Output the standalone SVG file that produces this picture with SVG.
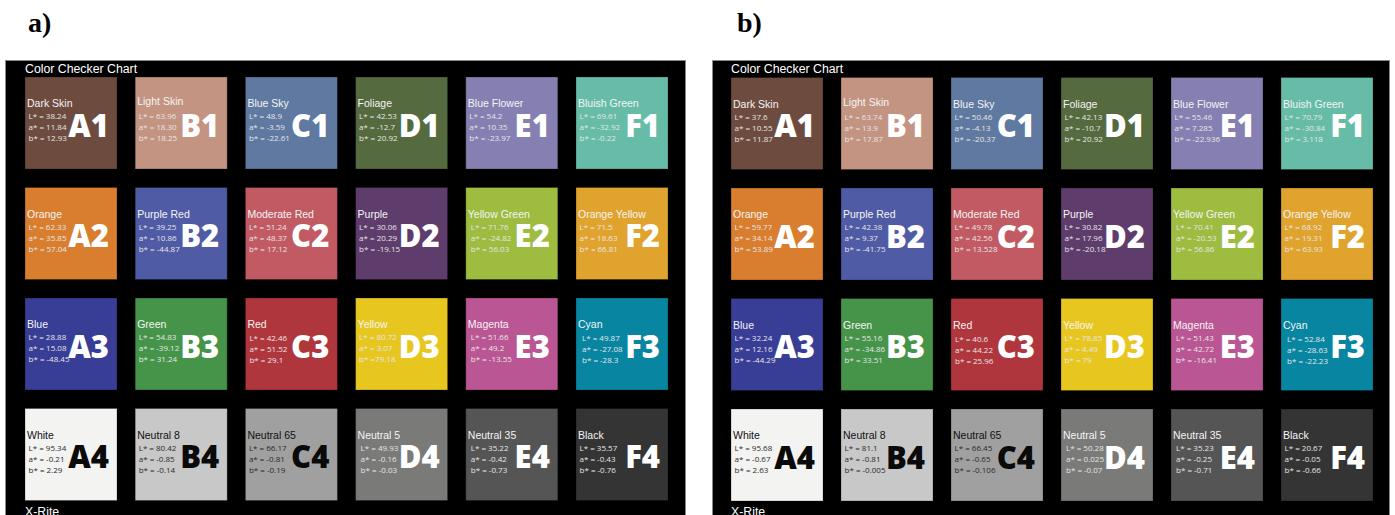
<svg xmlns="http://www.w3.org/2000/svg" width="1395" height="515" viewBox="0 0 1395 515">
<style>
.bg{fill:#fff}
.panel{fill:#000;stroke:#8a8a8a;stroke-width:1}
.sw{stroke:rgba(0,0,0,0.25);stroke-width:1}
.ttl{font-family:"Liberation Sans",Arial,sans-serif;font-size:12.3px;fill:#fff}
.pl{font-family:"Liberation Serif","Times New Roman",serif;font-size:28px;font-weight:bold;fill:#000}
.nm{font-family:"Liberation Sans",Arial,sans-serif;font-size:10.5px;fill:#f4f4f4}
.v{font-family:"Open Sans","Noto Sans",sans-serif;font-size:8px;fill:#e6e6e6}
.lb{font-family:"Open Sans","Noto Sans",sans-serif;font-size:31px;font-weight:800;fill:#fff;text-anchor:end}
.dk .nm{fill:#111}
.dk .v{fill:#2a2a2a}
.dk .lb{fill:#0a0a0a}
</style>
<rect class="bg" x="0" y="0" width="1395" height="515"/>
<text class="pl" x="28" y="32">a)</text>
<text class="pl" x="737" y="32">b)</text>

<g id="panel-a">
<rect class="panel" x="5.5" y="60.5" width="680" height="460"/>
<text class="ttl" x="25" y="73">Color Checker Chart</text>
<text class="ttl" x="25" y="516">X-Rite</text>

<g id="a-A1" transform="translate(25,77)"><rect class="sw" width="92" height="92" fill="#6d4c3f"/><text class="nm" x="2" y="30">Dark Skin</text><text class="v" x="3.5" y="42">L* = 38.24</text><text class="v" x="3.5" y="53">a* = 11.84</text><text class="v" x="3.5" y="64">b* = 12.93</text><text class="lb" x="84" y="59.5">A1</text></g>
<g id="a-B1" transform="translate(135.2,77)"><rect class="sw" width="92" height="92" fill="#c39482"/><text class="nm" x="2" y="28">Light Skin</text><text class="v" x="3.5" y="42">L* = 63.96</text><text class="v" x="3.5" y="53">a* = 18.30</text><text class="v" x="3.5" y="64">b* = 18.25</text><text class="lb" x="84" y="59.5">B1</text></g>
<g id="a-C1" transform="translate(245.4,77)"><rect class="sw" width="92" height="92" fill="#5f79a0"/><text class="nm" x="2" y="30">Blue Sky</text><text class="v" x="3.5" y="42">L* = 48.9</text><text class="v" x="3.5" y="53">a* = -3.59</text><text class="v" x="3.5" y="64">b* = -22.61</text><text class="lb" x="84" y="59.5">C1</text></g>
<g id="a-D1" transform="translate(355.6,77)"><rect class="sw" width="92" height="92" fill="#566a3f"/><text class="nm" x="2" y="30">Foliage</text><text class="v" x="3.5" y="42">L* = 42.53</text><text class="v" x="3.5" y="53">a* = -12.7</text><text class="v" x="3.5" y="64">b* = 20.92</text><text class="lb" x="84" y="59.5">D1</text></g>
<g id="a-E1" transform="translate(465.8,77)"><rect class="sw" width="92" height="92" fill="#8580b1"/><text class="nm" x="2" y="30">Blue Flower</text><text class="v" x="3.5" y="42">L* = 54.2</text><text class="v" x="3.5" y="53">a* = 10.35</text><text class="v" x="3.5" y="64">b* = -23.97</text><text class="lb" x="84" y="59.5">E1</text></g>
<g id="a-F1" transform="translate(576,77)"><rect class="sw" width="92" height="92" fill="#67bca8"/><text class="nm" x="2" y="30">Bluish Green</text><text class="v" x="3.5" y="42">L* = 69.61</text><text class="v" x="3.5" y="53">a* = -32.92</text><text class="v" x="3.5" y="64">b* = -0.22</text><text class="lb" x="84" y="59.5">F1</text></g>

<g id="a-A2" transform="translate(25,187.5)"><rect class="sw" width="92" height="92" fill="#d87e2e"/><text class="nm" x="2" y="30">Orange</text><text class="v" x="3.5" y="42">L* = 62.33</text><text class="v" x="3.5" y="53">a* = 35.85</text><text class="v" x="3.5" y="64">b* = 57.04</text><text class="lb" x="84" y="59.5">A2</text></g>
<g id="a-B2" transform="translate(135.2,187.5)"><rect class="sw" width="92" height="92" fill="#505ba6"/><text class="nm" x="2" y="30">Purple Red</text><text class="v" x="3.5" y="42">L* = 39.25</text><text class="v" x="3.5" y="53">a* = 10.86</text><text class="v" x="3.5" y="64">b* = -44.87</text><text class="lb" x="84" y="59.5">B2</text></g>
<g id="a-C2" transform="translate(245.4,187.5)"><rect class="sw" width="92" height="92" fill="#c15a63"/><text class="nm" x="2" y="30">Moderate Red</text><text class="v" x="3.5" y="42">L* = 51.24</text><text class="v" x="3.5" y="53">a* = 48.37</text><text class="v" x="3.5" y="64">b* = 17.12</text><text class="lb" x="84" y="59.5">C2</text></g>
<g id="a-D2" transform="translate(355.6,187.5)"><rect class="sw" width="92" height="92" fill="#5e3c6c"/><text class="nm" x="2" y="30">Purple</text><text class="v" x="3.5" y="42">L* = 30.06</text><text class="v" x="3.5" y="53">a* = 20.29</text><text class="v" x="3.5" y="64">b* = -19.15</text><text class="lb" x="84" y="59.5">D2</text></g>
<g id="a-E2" transform="translate(465.8,187.5)"><rect class="sw" width="92" height="92" fill="#9dbc40"/><text class="nm" x="2" y="30">Yellow Green</text><text class="v" x="5" y="42">L* = 71.76</text><text class="v" x="5" y="53">a* = -24.82</text><text class="v" x="5" y="64">b* = 56.03</text><text class="lb" x="84" y="59.5">E2</text></g>
<g id="a-F2" transform="translate(576,187.5)"><rect class="sw" width="92" height="92" fill="#e0a32e"/><text class="nm" x="2" y="30">Orange Yellow</text><text class="v" x="3.5" y="42">L* = 71.5</text><text class="v" x="3.5" y="53">a* = 18.63</text><text class="v" x="3.5" y="64">b* = 66.81</text><text class="lb" x="84" y="59.5">F2</text></g>

<g id="a-A3" transform="translate(25,298)"><rect class="sw" width="92" height="92" fill="#383d96"/><text class="nm" x="2" y="30">Blue</text><text class="v" x="3.5" y="42">L* = 28.88</text><text class="v" x="3.5" y="53">a* = 15.08</text><text class="v" x="3.5" y="64">b* = -48.45</text><text class="lb" x="84" y="59.5">A3</text></g>
<g id="a-B3" transform="translate(135.2,298)"><rect class="sw" width="92" height="92" fill="#469449"/><text class="nm" x="2" y="30">Green</text><text class="v" x="3.5" y="42">L* = 54.83</text><text class="v" x="3.5" y="53">a* = -39.12</text><text class="v" x="3.5" y="64">b* = 31.24</text><text class="lb" x="84" y="59.5">B3</text></g>
<g id="a-C3" transform="translate(245.4,298)"><rect class="sw" width="92" height="92" fill="#af363c"/><text class="nm" x="2" y="30">Red</text><text class="v" x="4" y="43">L* = 42.46</text><text class="v" x="4" y="54">a* = 51.52</text><text class="v" x="4" y="65">b* = 29.1</text><text class="lb" x="84" y="59.5">C3</text></g>
<g id="a-D3" transform="translate(355.6,298)"><rect class="sw" width="92" height="92" fill="#e7c71f"/><text class="nm" x="2" y="30">Yellow</text><text class="v" x="3.5" y="42">L* = 80.72</text><text class="v" x="3.5" y="53">a* = 3.07</text><text class="v" x="3.5" y="64">b* =79.18</text><text class="lb" x="84" y="59.5">D3</text></g>
<g id="a-E3" transform="translate(465.8,298)"><rect class="sw" width="92" height="92" fill="#bb5695"/><text class="nm" x="2" y="30">Magenta</text><text class="v" x="5" y="42">L* = 51.66</text><text class="v" x="5" y="53">a* = 49.2</text><text class="v" x="5" y="64">b* = -13.55</text><text class="lb" x="84" y="59.5">E3</text></g>
<g id="a-F3" transform="translate(576,298)"><rect class="sw" width="92" height="92" fill="#0885a1"/><text class="nm" x="2" y="30">Cyan</text><text class="v" x="6" y="43">L* = 49.87</text><text class="v" x="6" y="54">a* = -27.08</text><text class="v" x="6" y="65">b* = -28.3</text><text class="lb" x="84" y="59.5">F3</text></g>

<g id="a-A4" class="dk" transform="translate(25,408.5)"><rect class="sw" width="92" height="92" fill="#f3f3f2"/><text class="nm" x="2" y="30">White</text><text class="v" x="3.5" y="42">L* = 95.34</text><text class="v" x="3.5" y="53">a* = -0.21</text><text class="v" x="3.5" y="64">b* = 2.29</text><text class="lb" x="84" y="59.5">A4</text></g>
<g id="a-B4" class="dk" transform="translate(135.2,408.5)"><rect class="sw" width="92" height="92" fill="#c8c8c8"/><text class="nm" x="2" y="30">Neutral 8</text><text class="v" x="3.5" y="42">L* = 80.42</text><text class="v" x="3.5" y="53">a* = -0.85</text><text class="v" x="3.5" y="64">b* = -0.14</text><text class="lb" x="84" y="59.5">B4</text></g>
<g id="a-C4" class="dk" transform="translate(245.4,408.5)"><rect class="sw" width="92" height="92" fill="#a0a0a0"/><text class="nm" x="2" y="30">Neutral 65</text><text class="v" x="3.5" y="42">L* = 66.17</text><text class="v" x="3.5" y="53">a* = -0.81</text><text class="v" x="3.5" y="64">b* = -0.19</text><text class="lb" x="84" y="59.5">C4</text></g>
<g id="a-D4" transform="translate(355.6,408.5)"><rect class="sw" width="92" height="92" fill="#7a7a79"/><text class="nm" x="2" y="30">Neutral 5</text><text class="v" x="5" y="42">L* = 49.93</text><text class="v" x="5" y="53">a* = -0.16</text><text class="v" x="5" y="64">b* = -0.03</text><text class="lb" x="84" y="59.5">D4</text></g>
<g id="a-E4" transform="translate(465.8,408.5)"><rect class="sw" width="92" height="92" fill="#555555"/><text class="nm" x="2" y="30">Neutral 35</text><text class="v" x="5" y="42">L* = 35.22</text><text class="v" x="5" y="53">a* = -0.42</text><text class="v" x="5" y="64">b* = -0.73</text><text class="lb" x="84" y="59.5">E4</text></g>
<g id="a-F4" transform="translate(576,408.5)"><rect class="sw" width="92" height="92" fill="#343434"/><text class="nm" x="2" y="30">Black</text><text class="v" x="3.5" y="42">L* = 35.57</text><text class="v" x="3.5" y="53">a* = -0.43</text><text class="v" x="3.5" y="64">b* = -0.76</text><text class="lb" x="84" y="59.5">F4</text></g>
</g>

<g id="panel-b">
<rect class="panel" x="712.5" y="60.5" width="677" height="460"/>
<text class="ttl" x="731" y="73">Color Checker Chart</text>
<text class="ttl" x="731" y="516">X-Rite</text>

<g id="b-A1" transform="translate(731,77.5)"><rect class="sw" width="92" height="92" fill="#6d4c3f"/><text class="nm" x="2" y="30">Dark Skin</text><text class="v" x="3.5" y="42">L* = 37.6</text><text class="v" x="3.5" y="53">a* = 10.55</text><text class="v" x="3.5" y="64">b* = 11.87</text><text class="lb" x="84" y="59.5">A1</text></g>
<g id="b-B1" transform="translate(841,77.5)"><rect class="sw" width="92" height="92" fill="#c39482"/><text class="nm" x="2" y="28">Light Skin</text><text class="v" x="3.5" y="42">L* = 63.74</text><text class="v" x="3.5" y="53">a* = 13.9</text><text class="v" x="3.5" y="64">b* = 17.87</text><text class="lb" x="84" y="59.5">B1</text></g>
<g id="b-C1" transform="translate(951,77.5)"><rect class="sw" width="92" height="92" fill="#5f79a0"/><text class="nm" x="2" y="30">Blue Sky</text><text class="v" x="3.5" y="42">L* = 50.46</text><text class="v" x="3.5" y="53">a* = -4.13</text><text class="v" x="3.5" y="64">b* = -20.37</text><text class="lb" x="84" y="59.5">C1</text></g>
<g id="b-D1" transform="translate(1061,77.5)"><rect class="sw" width="92" height="92" fill="#566a3f"/><text class="nm" x="2" y="30">Foliage</text><text class="v" x="3.5" y="42">L* = 42.13</text><text class="v" x="3.5" y="53">a* = -10.7</text><text class="v" x="3.5" y="64">b* = 20.92</text><text class="lb" x="84" y="59.5">D1</text></g>
<g id="b-E1" transform="translate(1171,77.5)"><rect class="sw" width="92" height="92" fill="#8580b1"/><text class="nm" x="2" y="30">Blue Flower</text><text class="v" x="3.5" y="42">L* = 55.46</text><text class="v" x="3.5" y="53">a* = 7.285</text><text class="v" x="3.5" y="64">b* = -22.936</text><text class="lb" x="84" y="59.5">E1</text></g>
<g id="b-F1" transform="translate(1281,77.5)"><rect class="sw" width="92" height="92" fill="#67bca8"/><text class="nm" x="2" y="30">Bluish Green</text><text class="v" x="3.5" y="42">L* = 70.79</text><text class="v" x="3.5" y="53">a* = -30.84</text><text class="v" x="3.5" y="64">b* = 3.118</text><text class="lb" x="84" y="59.5">F1</text></g>

<g id="b-A2" transform="translate(731,188)"><rect class="sw" width="92" height="92" fill="#d87e2e"/><text class="nm" x="2" y="30">Orange</text><text class="v" x="3.5" y="42">L* = 59.77</text><text class="v" x="3.5" y="53">a* = 34.14</text><text class="v" x="3.5" y="64">b* = 53.89</text><text class="lb" x="84" y="59.5">A2</text></g>
<g id="b-B2" transform="translate(841,188)"><rect class="sw" width="92" height="92" fill="#505ba6"/><text class="nm" x="2" y="30">Purple Red</text><text class="v" x="3.5" y="42">L* = 42.38</text><text class="v" x="3.5" y="53">a* = 9.37</text><text class="v" x="3.5" y="64">b* = -41.75</text><text class="lb" x="84" y="59.5">B2</text></g>
<g id="b-C2" transform="translate(951,188)"><rect class="sw" width="92" height="92" fill="#c15a63"/><text class="nm" x="2" y="30">Moderate Red</text><text class="v" x="3.5" y="42">L* = 49.78</text><text class="v" x="3.5" y="53">a* = 42.56</text><text class="v" x="3.5" y="64">b* = 13.528</text><text class="lb" x="84" y="59.5">C2</text></g>
<g id="b-D2" transform="translate(1061,188)"><rect class="sw" width="92" height="92" fill="#5e3c6c"/><text class="nm" x="2" y="30">Purple</text><text class="v" x="3.5" y="42">L* = 30.82</text><text class="v" x="3.5" y="53">a* = 17.96</text><text class="v" x="3.5" y="64">b* = -20.18</text><text class="lb" x="84" y="59.5">D2</text></g>
<g id="b-E2" transform="translate(1171,188)"><rect class="sw" width="92" height="92" fill="#9dbc40"/><text class="nm" x="2" y="30">Yellow Green</text><text class="v" x="5" y="42">L* = 70.41</text><text class="v" x="5" y="53">a* = -20.53</text><text class="v" x="5" y="64">b* = 56.86</text><text class="lb" x="84" y="59.5">E2</text></g>
<g id="b-F2" transform="translate(1281,188)"><rect class="sw" width="92" height="92" fill="#e0a32e"/><text class="nm" x="2" y="30">Orange Yellow</text><text class="v" x="3.5" y="42">L* = 68.92</text><text class="v" x="3.5" y="53">a* = 19.31</text><text class="v" x="3.5" y="64">b* = 63.93</text><text class="lb" x="84" y="59.5">F2</text></g>

<g id="b-A3" transform="translate(731,298.5)"><rect class="sw" width="92" height="92" fill="#383d96"/><text class="nm" x="2" y="30">Blue</text><text class="v" x="3.5" y="42">L* = 32.24</text><text class="v" x="3.5" y="53">a* = 12.16</text><text class="v" x="3.5" y="64">b* = -44.29</text><text class="lb" x="84" y="59.5">A3</text></g>
<g id="b-B3" transform="translate(841,298.5)"><rect class="sw" width="92" height="92" fill="#469449"/><text class="nm" x="2" y="30">Green</text><text class="v" x="3.5" y="42">L* = 55.16</text><text class="v" x="3.5" y="53">a* = -34.86</text><text class="v" x="3.5" y="64">b* = 33.51</text><text class="lb" x="84" y="59.5">B3</text></g>
<g id="b-C3" transform="translate(951,298.5)"><rect class="sw" width="92" height="92" fill="#af363c"/><text class="nm" x="2" y="30">Red</text><text class="v" x="4" y="43">L* = 40.6</text><text class="v" x="4" y="54">a* = 44.22</text><text class="v" x="4" y="65">b* = 25.96</text><text class="lb" x="84" y="59.5">C3</text></g>
<g id="b-D3" transform="translate(1061,298.5)"><rect class="sw" width="92" height="92" fill="#e7c71f"/><text class="nm" x="2" y="30">Yellow</text><text class="v" x="3.5" y="42">L* = 78.85</text><text class="v" x="3.5" y="53">a* = 4.49</text><text class="v" x="3.5" y="64">b* = 79</text><text class="lb" x="84" y="59.5">D3</text></g>
<g id="b-E3" transform="translate(1171,298.5)"><rect class="sw" width="92" height="92" fill="#bb5695"/><text class="nm" x="2" y="30">Magenta</text><text class="v" x="5" y="42">L* = 51.43</text><text class="v" x="5" y="53">a* = 42.72</text><text class="v" x="5" y="64">b* = -16.41</text><text class="lb" x="84" y="59.5">E3</text></g>
<g id="b-F3" transform="translate(1281,298.5)"><rect class="sw" width="92" height="92" fill="#0885a1"/><text class="nm" x="2" y="30">Cyan</text><text class="v" x="6" y="43">L* = 52.84</text><text class="v" x="6" y="54">a* = -28.63</text><text class="v" x="6" y="65">b* = -22.23</text><text class="lb" x="84" y="59.5">F3</text></g>

<g id="b-A4" class="dk" transform="translate(731,409)"><rect class="sw" width="92" height="92" fill="#f3f3f2"/><text class="nm" x="2" y="30">White</text><text class="v" x="3.5" y="42">L* = 95.68</text><text class="v" x="3.5" y="53">a* = -0.67</text><text class="v" x="3.5" y="64">b* = 2.63</text><text class="lb" x="84" y="59.5">A4</text></g>
<g id="b-B4" class="dk" transform="translate(841,409)"><rect class="sw" width="92" height="92" fill="#c8c8c8"/><text class="nm" x="2" y="30">Neutral 8</text><text class="v" x="3.5" y="42">L* = 81.1</text><text class="v" x="3.5" y="53">a* = -0.81</text><text class="v" x="3.5" y="64">b* = -0.005</text><text class="lb" x="84" y="59.5">B4</text></g>
<g id="b-C4" class="dk" transform="translate(951,409)"><rect class="sw" width="92" height="92" fill="#a0a0a0"/><text class="nm" x="2" y="30">Neutral 65</text><text class="v" x="3.5" y="42">L* = 66.45</text><text class="v" x="3.5" y="53">a* = -0.65</text><text class="v" x="3.5" y="64">b* = -0.106</text><text class="lb" x="84" y="59.5">C4</text></g>
<g id="b-D4" transform="translate(1061,409)"><rect class="sw" width="92" height="92" fill="#7a7a79"/><text class="nm" x="2" y="30">Neutral 5</text><text class="v" x="5" y="42">L* = 50.28</text><text class="v" x="5" y="53">a* = 0.025</text><text class="v" x="5" y="64">b* = -0.07</text><text class="lb" x="84" y="59.5">D4</text></g>
<g id="b-E4" transform="translate(1171,409)"><rect class="sw" width="92" height="92" fill="#555555"/><text class="nm" x="2" y="30">Neutral 35</text><text class="v" x="5" y="42">L* = 35.23</text><text class="v" x="5" y="53">a* = -0.25</text><text class="v" x="5" y="64">b* = -0.71</text><text class="lb" x="84" y="59.5">E4</text></g>
<g id="b-F4" transform="translate(1281,409)"><rect class="sw" width="92" height="92" fill="#343434"/><text class="nm" x="2" y="30">Black</text><text class="v" x="3.5" y="42">L* = 20.67</text><text class="v" x="3.5" y="53">a* = -0.05</text><text class="v" x="3.5" y="64">b* = -0.66</text><text class="lb" x="84" y="59.5">F4</text></g>
</g>
</svg>
